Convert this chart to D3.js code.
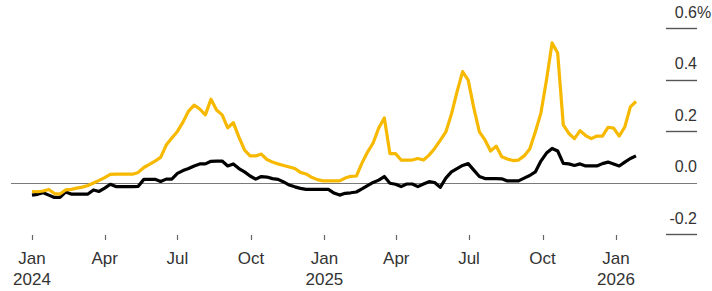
<!DOCTYPE html>
<html>
<head>
<meta charset="utf-8">
<script src="https://cdn.jsdelivr.net/npm/d3@7"></script>
<style>
  body { margin: 0; background: #fff; }
  text { font-family: "Liberation Sans", Arial, sans-serif; }
</style>
</head>
<body>
<div id="chart"></div>
<script>
// weekly readings, first week starting Jan 1 2024
const firstWeek = "2024-01-01";

// yellow series (% change)
const yellowValues = [
  -0.034, -0.035, -0.032, -0.026, -0.042, -0.044, -0.028, -0.026, -0.021, -0.017,
  -0.011, -0.001, 0.009, 0.020, 0.032, 0.033, 0.033, 0.033, 0.033, 0.040,
  0.059, 0.071, 0.084, 0.098, 0.146, 0.173, 0.199, 0.235, 0.278, 0.301,
  0.286, 0.263, 0.324, 0.282, 0.263, 0.213, 0.233, 0.177, 0.127, 0.104,
  0.104, 0.111, 0.090, 0.080, 0.073, 0.067, 0.061, 0.055, 0.040, 0.034,
  0.021, 0.012, 0.007, 0.007, 0.007, 0.007, 0.018, 0.025, 0.026, 0.076,
  0.119, 0.154, 0.212, 0.251, 0.113, 0.113, 0.088, 0.088, 0.088, 0.094,
  0.088, 0.107, 0.133, 0.164, 0.197, 0.266, 0.352, 0.431, 0.398, 0.290,
  0.197, 0.166, 0.123, 0.142, 0.101, 0.092, 0.086, 0.088, 0.104, 0.131,
  0.197, 0.270, 0.398, 0.542, 0.503, 0.224, 0.191, 0.171, 0.202, 0.183,
  0.171, 0.181, 0.181, 0.215, 0.212, 0.181, 0.216, 0.294, 0.315
];

// black series (% change)
const blackValues = [
  -0.048, -0.045, -0.039, -0.048, -0.057, -0.057, -0.036, -0.044, -0.044, -0.044,
  -0.044, -0.028, -0.034, -0.021, -0.006, -0.015, -0.015, -0.015, -0.015, -0.014,
  0.013, 0.013, 0.013, 0.005, 0.014, 0.014, 0.036, 0.047, 0.055, 0.065,
  0.073, 0.073, 0.083, 0.084, 0.084, 0.065, 0.073, 0.055, 0.042, 0.026,
  0.014, 0.024, 0.022, 0.016, 0.013, 0.003, -0.009, -0.016, -0.022, -0.026,
  -0.026, -0.026, -0.026, -0.026, -0.040, -0.048, -0.041, -0.039, -0.036, -0.024,
  -0.011, 0.001, 0.010, 0.024, -0.002, -0.006, -0.015, -0.005, -0.005, -0.015,
  -0.005, 0.004, 0.001, -0.018, 0.018, 0.042, 0.055, 0.067, 0.074, 0.049,
  0.024, 0.016, 0.016, 0.016, 0.015, 0.007, 0.007, 0.007, 0.018, 0.028,
  0.042, 0.084, 0.115, 0.133, 0.123, 0.075, 0.073, 0.067, 0.073, 0.065,
  0.065, 0.065, 0.074, 0.080, 0.073, 0.065, 0.080, 0.094, 0.104
];

const yTicks = [-0.2, 0, 0.2, 0.4, 0.6];
const yTickLabels = ["-0.2", "0.0", "0.2", "0.4", "0.6"];
const xTickMonths = ["Jan", "Apr", "Jul", "Oct", "Jan", "Apr", "Jul", "Oct", "Jan"];
const xTickYears = ["2024", "", "", "", "2025", "", "", "", "2026"];

const width = 712, height = 291;

const svg = d3.select("#chart").append("svg")
  .attr("width", width)
  .attr("height", height);

const parse = d3.timeParse("%Y-%m-%d");
const start = parse(firstWeek);
const dates = yellowValues.map((d, i) => d3.timeWeek.offset(start, i));

const x = d3.scaleTime()
  .domain([parse("2024-01-01"), parse("2026-01-01")])
  .range([32, 616]);

const y = d3.scaleLinear()
  .domain([-0.2, 0.6])
  .range([234.3, 28]);

// right side grid marks + labels
const yg = svg.append("g");
yg.selectAll("line")
  .data(yTicks)
  .enter()
  .append("line")
  .attr("x1", (d) => d === 0 ? 11 : 666)
  .attr("x2", 697)
  .attr("y1", (d) => Math.round(y(d)) + 0.5)
  .attr("y2", (d) => Math.round(y(d)) + 0.5)
  .attr("stroke", (d) => d === 0 ? "#7a7a7a" : "#555")
  .attr("stroke-width", (d) => d === 0 ? 1.2 : 1.4);

yg.selectAll("text.ylab")
  .data(yTicks)
  .enter()
  .append("text")
  .attr("class", "ylab")
  .attr("x", 697)
  .attr("y", (d) => y(d) - 10.5)
  .attr("text-anchor", "end")
  .attr("font-size", 16)
  .attr("fill", "#333")
  .text((d, i) => yTickLabels[i]);

yg.append("text")
  .attr("x", 697)
  .attr("y", y(0.6) - 10.5)
  .attr("font-size", 16)
  .attr("fill", "#333")
  .text("%");

// x axis ticks
const xTickDates = d3.timeMonth.every(3).range(parse("2024-01-01"), parse("2026-01-02"));
const xg = svg.append("g");
xg.selectAll("line")
  .data(xTickDates)
  .enter()
  .append("line")
  .attr("x1", (d) => Math.round(x(d)) + 0.5)
  .attr("x2", (d) => Math.round(x(d)) + 0.5)
  .attr("y1", 235)
  .attr("y2", 240)
  .attr("stroke", "#666")
  .attr("stroke-width", 1.2);

xg.selectAll("text.mon")
  .data(xTickDates)
  .enter()
  .append("text")
  .attr("class", "mon")
  .attr("x", (d) => x(d))
  .attr("y", 263.5)
  .attr("text-anchor", "middle")
  .attr("font-size", 17)
  .attr("fill", "#333")
  .text((d, i) => xTickMonths[i]);

xg.selectAll("text.yr")
  .data(xTickDates)
  .enter()
  .append("text")
  .attr("class", "yr")
  .attr("x", (d) => x(d))
  .attr("y", 285)
  .attr("text-anchor", "middle")
  .attr("font-size", 17)
  .attr("fill", "#333")
  .text((d, i) => xTickYears[i]);

// lines
const line = d3.line()
  .x((d) => x(d[0]))
  .y((d) => y(d[1]));

svg.append("path")
  .datum(dates.map((d, i) => [d, blackValues[i]]))
  .attr("d", line)
  .attr("fill", "none")
  .attr("stroke", "#000")
  .attr("stroke-width", 3.2)
  .attr("stroke-linejoin", "round");

svg.append("path")
  .datum(dates.map((d, i) => [d, yellowValues[i]]))
  .attr("d", line)
  .attr("fill", "none")
  .attr("stroke", "#f7b900")
  .attr("stroke-width", 3.2)
  .attr("stroke-linejoin", "round");
</script>
</body>
</html>
